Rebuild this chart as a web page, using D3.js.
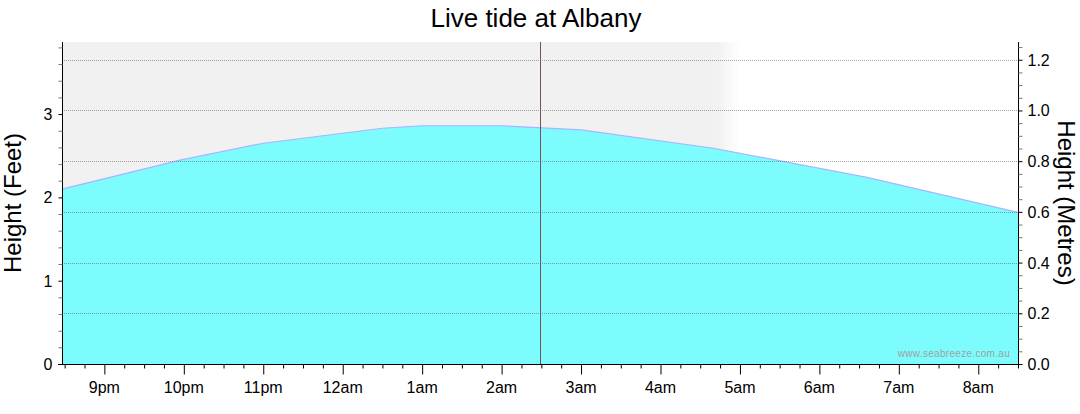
<!DOCTYPE html>
<html>
<head>
<meta charset="utf-8">
<script src="https://cdn.jsdelivr.net/npm/d3@7"></script>
<style>
  body { margin: 0; background: #fff; }
  svg { display: block; font-family: "Liberation Sans", Arial, sans-serif; }
</style>
</head>
<body>
<div id="chart"></div>
<script>
// tide readings (feet)
const times = ['2024-01-01 20:28', '2024-01-01 21:58', '2024-01-01 23:00', '2024-01-02 00:30',
  '2024-01-02 01:00', '2024-01-02 02:00', '2024-01-02 03:00', '2024-01-02 04:40',
  '2024-01-02 06:36', '2024-01-02 08:30'];
const heightsFt = [2.10, 2.45, 2.65, 2.83, 2.86, 2.86, 2.81, 2.59, 2.24, 1.82];

const startTime = '2024-01-01 20:28';
const endTime = '2024-01-02 08:30';
const nowTime = '2024-01-02 02:29';
const nightFade = ['2024-01-02 04:43', '2024-01-02 05:00'];

const feetTicks = [0, 1, 2, 3];
const metreTicks = [0, 0.2, 0.4, 0.6, 0.8, 1.0, 1.2];

const width = 1080, height = 414;
const margin = { top: 42, right: 62, bottom: 50, left: 62 };
const parse = d3.timeParse('%Y-%m-%d %H:%M');

const svg = d3.select('#chart').append('svg')
  .attr('width', width)
  .attr('height', height);

const x = d3.scaleTime()
  .domain([parse(startTime), parse(endTime)])
  .range([margin.left, width - margin.right]);
const yFt = d3.scaleLinear().domain([0, 3.865]).range([height - margin.bottom, margin.top]);
const yM = d3.scaleLinear().domain([0, 1.27]).range([height - margin.bottom, margin.top]);

const data = times.map((t, i) => ({ t: parse(t), v: heightsFt[i] }));
const x0 = margin.left, x1 = width - margin.right;
const yTop = margin.top, yBot = height - margin.bottom;

// night shading, fading out at dawn
const defs = svg.append('defs');
const grad = defs.append('linearGradient')
  .attr('id', 'night')
  .attr('gradientUnits', 'userSpaceOnUse')
  .attr('x1', x(parse(nightFade[0]))).attr('x2', x(parse(nightFade[1])))
  .attr('y1', 0).attr('y2', 0);
grad.append('stop').attr('offset', 0).attr('stop-color', '#f1f1f1');
grad.append('stop').attr('offset', 1).attr('stop-color', '#ffffff');

svg.append('rect')
  .attr('x', x0).attr('y', yTop)
  .attr('width', x(parse(nightFade[1])) - x0)
  .attr('height', yBot - yTop)
  .attr('fill', 'url(#night)');

// tide area
const area = d3.area()
  .x(d => x(d.t))
  .y0(yBot)
  .y1(d => yFt(d.v));
const line = d3.line()
  .x(d => x(d.t))
  .y(d => yFt(d.v));

svg.append('path')
  .datum(data)
  .attr('d', area)
  .attr('fill', '#7cfcfd');
svg.append('path')
  .datum(data)
  .attr('d', line)
  .attr('fill', 'none')
  .attr('stroke', '#a8b4ff')
  .attr('stroke-width', 1.2);

// dotted grid from the metre axis
svg.append('g')
  .selectAll('line')
  .data(metreTicks.filter(d => d > 0))
  .join('line')
  .attr('x1', x0).attr('x2', x1)
  .attr('y1', d => Math.round(yM(d)) + 0.5)
  .attr('y2', d => Math.round(yM(d)) + 0.5)
  .attr('stroke', '#383838')
  .attr('stroke-opacity', 0.44)
  .attr('stroke-dasharray', '1,1');

// current time marker
svg.append('line')
  .attr('x1', Math.round(x(parse(nowTime))) + 0.5)
  .attr('x2', Math.round(x(parse(nowTime))) + 0.5)
  .attr('y1', yTop).attr('y2', yBot)
  .attr('stroke', '#7a5052')
  .attr('stroke-width', 1);

// watermark
svg.append('text')
  .attr('x', x1 - 8).attr('y', yBot - 7)
  .attr('text-anchor', 'end')
  .attr('font-size', 10)
  .attr('fill', '#a0a0a0')
  .attr('letter-spacing', 0.3)
  .text('www.seabreeze.com.au');

// axes
const leftAxis = svg.append('g').attr('transform', `translate(${x0 + 0.5},0)`);
leftAxis.call(d3.axisLeft(yFt).tickValues(d3.range(0, 3.81, 0.2)).tickSize(4).tickFormat(''));
leftAxis.selectAll('.tick line').attr('stroke', (d) => Math.abs(d - Math.round(d)) < 1e-6 ? '#000' : '#777');
leftAxis.select('.domain').attr('d', `M0,${yTop}V${yBot}`).attr('stroke', '#000');
leftAxis.append('g')
  .selectAll('text')
  .data(feetTicks)
  .join('text')
  .attr('x', -10).attr('y', d => yFt(d) + 6)
  .attr('text-anchor', 'end')
  .attr('font-size', 16)
  .attr('fill', '#000')
  .text(d => d);

const rightAxis = svg.append('g').attr('transform', `translate(${x1 + 0.5},0)`);
rightAxis.call(d3.axisRight(yM).tickValues(d3.range(0, 1.26, 0.05)).tickSize(4).tickFormat(''));
rightAxis.selectAll('.tick line').attr('stroke', (d) => Math.abs(d * 5 - Math.round(d * 5)) < 1e-6 ? '#000' : '#777');
rightAxis.select('.domain').attr('d', `M0,${yTop}V${yBot}`).attr('stroke', '#000');
rightAxis.append('g')
  .selectAll('text')
  .data(metreTicks)
  .join('text')
  .attr('x', 9).attr('y', d => yM(d) + 6)
  .attr('font-size', 16)
  .attr('fill', '#000')
  .text(d => d.toFixed(1));

const fmt = d3.timeFormat('%-I%p');
const bottomAxis = svg.append('g').attr('transform', `translate(0,${yBot + 0.5})`);
bottomAxis.call(d3.axisBottom(x).ticks(d3.timeMinute.every(15)).tickSize(4).tickFormat(''));
bottomAxis.selectAll('.tick line')
  .attr('y2', d => d.getMinutes() === 0 ? 10 : 4)
  .attr('stroke', '#000');
bottomAxis.select('.domain').attr('d', `M${x0 - 4},0H${x1 + 4}`).attr('stroke', '#000');
bottomAxis.append('g')
  .selectAll('text')
  .data(x.ticks(d3.timeHour.every(1)))
  .join('text')
  .attr('x', d => x(d)).attr('y', 28)
  .attr('text-anchor', 'middle')
  .attr('font-size', 16)
  .attr('fill', '#000')
  .text(d => fmt(d).toLowerCase());

// titles
svg.append('text')
  .attr('x', 536).attr('y', 27)
  .attr('text-anchor', 'middle')
  .attr('font-size', 26)
  .text('Live tide at Albany');

svg.append('text')
  .attr('transform', `translate(21,${(yTop + yBot) / 2}) rotate(-90)`)
  .attr('text-anchor', 'middle')
  .attr('font-size', 24)
  .text('Height (Feet)');

svg.append('text')
  .attr('transform', `translate(1058,${(yTop + yBot) / 2}) rotate(90)`)
  .attr('text-anchor', 'middle')
  .attr('font-size', 24)
  .text('Height (Metres)');
</script>
</body>
</html>
